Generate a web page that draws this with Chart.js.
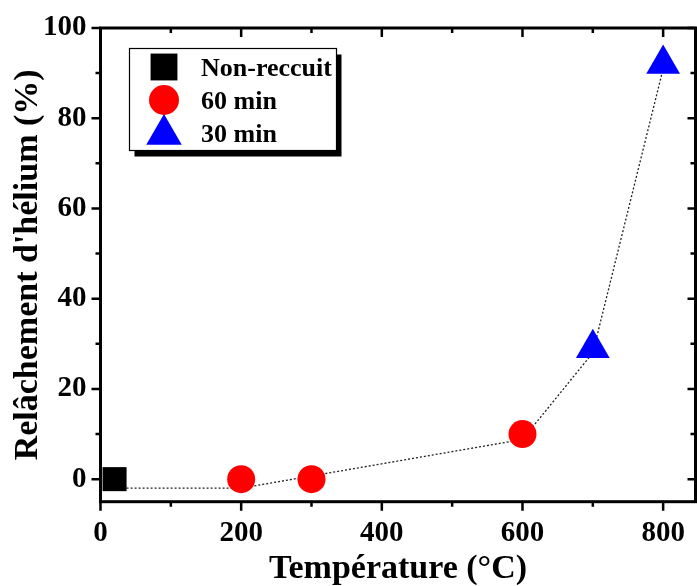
<!DOCTYPE html>
<html>
<head>
<meta charset="utf-8">
<script src="https://cdn.jsdelivr.net/npm/chart.js@4.4.0/dist/chart.umd.min.js"></script>
<style>
html, body { margin: 0; padding: 0; background: #fff; }
#wrap { width: 697px; height: 586px; }
</style>
</head>
<body>
<div id="wrap"><canvas id="chart" width="697" height="586"></canvas></div>
<script>
// Values
const unannealedTemp = [20];
const unannealedRelease = [0];
const temp60 = [200, 300, 600];
const release60 = [0, 0, 10];
const temp30 = [700, 800];
const release30 = [29, 92];

// dotted guide curve
const guideTemp = [20, 200, 600, 700, 800];
const guideRelease = [-2, -2, 8.8, 28, 91];

const xMajorTicks = [0, 200, 400, 600, 800];
const xMinorTicks = [100, 300, 500, 700];
const yMajorTicks = [0, 20, 40, 60, 80, 100];
const yMinorTicks = [10, 30, 50, 70, 90];

const seriesNames = ['Non-reccuit', '60 min', '30 min'];

const SERIF = "'Liberation Serif', 'Times New Roman', serif";

function toPoints(xs, ys) {
    return xs.map((x, i) => ({ x: x, y: ys[i] }));
}

// Origin-style frame: outward ticks left/bottom, inward ticks top/right
const framePlugin = {
    id: 'frame',
    afterDatasetsDraw(chart) {
        const ctx = chart.ctx;
        const area = chart.chartArea;
        const xs = chart.scales.x;
        const ys = chart.scales.y;
        ctx.save();
        ctx.strokeStyle = '#000';
        ctx.lineWidth = 3;
        ctx.strokeRect(area.left, area.top, area.right - area.left, area.bottom - area.top);

        ctx.lineWidth = 2.5;
        ctx.beginPath();
        const xTick = (v, outLen, inLen) => {
            const px = xs.getPixelForValue(v);
            ctx.moveTo(px, area.bottom);
            ctx.lineTo(px, area.bottom + outLen);
            ctx.moveTo(px, area.top);
            ctx.lineTo(px, area.top + inLen);
        };
        const yTick = (v, outLen, inLen) => {
            const py = ys.getPixelForValue(v);
            ctx.moveTo(area.left, py);
            ctx.lineTo(area.left - outLen, py);
            ctx.moveTo(area.right, py);
            ctx.lineTo(area.right - inLen, py);
        };
        xMajorTicks.forEach(v => xTick(v, 9, 9));
        xMinorTicks.forEach(v => xTick(v, 5, 5));
        yMajorTicks.forEach(v => yTick(v, 9, 8));
        yMinorTicks.forEach(v => yTick(v, 5, 5));
        ctx.stroke();
        ctx.restore();

        drawLegend(chart);
    }
};

function drawLegend(chart) {
    const ctx = chart.ctx;
    const box = { x: 129.5, y: 48.5, w: 207, h: 102 };
    ctx.save();
    // drop shadow
    ctx.fillStyle = '#000';
    ctx.fillRect(box.x + 5, box.y + 6, box.w, box.h);
    ctx.fillStyle = '#fff';
    ctx.fillRect(box.x, box.y, box.w, box.h);
    ctx.strokeStyle = '#000';
    ctx.lineWidth = 1.2;
    ctx.strokeRect(box.x, box.y, box.w, box.h);

    const markers = [
        { style: 'rect', radius: 19, color: '#000000', y: 67 },
        { style: 'circle', radius: 15, color: '#ff0000', y: 100 },
        { style: 'triangle', radius: 20.5, color: '#0000ff', y: 134.5 }
    ];
    const baselines = [76, 109, 142];
    markers.forEach((m, i) => {
        ctx.fillStyle = m.color;
        ctx.strokeStyle = m.color;
        Chart.helpers.drawPoint(ctx, { pointStyle: m.style, radius: m.radius, rotation: 0, borderWidth: 0 }, 164, m.y);
        ctx.fillStyle = '#000';
        ctx.font = 'bold 26px ' + SERIF;
        ctx.textBaseline = 'alphabetic';
        ctx.textAlign = 'left';
        ctx.fillText(seriesNames[i], 201, baselines[i]);
    });
    ctx.restore();
}

const ctx = document.getElementById('chart').getContext('2d');

new Chart(ctx, {
    type: 'scatter',
    data: {
        datasets: [
            {
                label: seriesNames[0],
                data: toPoints(unannealedTemp, unannealedRelease),
                pointStyle: 'rect',
                pointRadius: 17,
                backgroundColor: '#000000',
                borderColor: '#000000',
                pointBorderWidth: 0
            },
            {
                label: seriesNames[1],
                data: toPoints(temp60, release60),
                pointStyle: 'circle',
                pointRadius: 14,
                backgroundColor: '#ff0000',
                borderColor: '#ff0000',
                pointBorderWidth: 0
            },
            {
                label: seriesNames[2],
                data: toPoints(temp30, release30),
                pointStyle: 'triangle',
                pointRadius: 19.5,
                backgroundColor: '#0000ff',
                borderColor: '#0000ff',
                pointBorderWidth: 0
            },
            {
                label: 'guide',
                data: toPoints(guideTemp, guideRelease),
                showLine: true,
                pointRadius: 0,
                borderColor: '#222',
                borderWidth: 1.3,
                borderDash: [2, 2],
                tension: 0
            }
        ]
    },
    options: {
        responsive: false,
        animation: false,
        devicePixelRatio: 1,
        clip: false,
        layout: {
            autoPadding: false, // big markers would otherwise shrink the plot
            padding: { top: 28, right: 1.5, left: 0, bottom: 0 }
        },
        plugins: {
            legend: { display: false },
            tooltip: { enabled: false }
        },
        scales: {
            x: {
                type: 'linear',
                min: 0,
                max: 846,
                afterFit(scale) {
                    scale.height = 84.3;
                    scale.paddingLeft = 0;
                    scale.paddingRight = 0;
                },
                grid: { display: false, drawTicks: false },
                border: { display: false },
                ticks: {
                    stepSize: 200,
                    includeBounds: false,
                    padding: 14,
                    maxRotation: 0,
                    color: '#000',
                    font: { family: SERIF, size: 29, weight: 'bold' }
                },
                title: {
                    display: true,
                    text: 'Température (°C)',
                    color: '#000',
                    padding: { top: 0, bottom: 0 },
                    font: { family: SERIF, size: 34, weight: 'bold', lineHeight: 1 }
                }
            },
            y: {
                type: 'linear',
                min: -5,
                max: 100,
                afterFit(scale) {
                    scale.width = 100.5;
                    scale.paddingTop = 0;
                    scale.paddingBottom = 0;
                },
                grid: { display: false, drawTicks: false },
                border: { display: false },
                ticks: {
                    stepSize: 20,
                    includeBounds: false,
                    padding: 14,
                    color: '#000',
                    font: { family: SERIF, size: 29, weight: 'bold' }
                },
                title: {
                    display: true,
                    text: "Relâchement d'hélium (%)",
                    color: '#000',
                    padding: { top: 11.5, bottom: 0 },
                    font: { family: SERIF, size: 34, weight: 'bold', lineHeight: 1 }
                }
            }
        }
    },
    plugins: [framePlugin]
});
</script>
</body>
</html>
